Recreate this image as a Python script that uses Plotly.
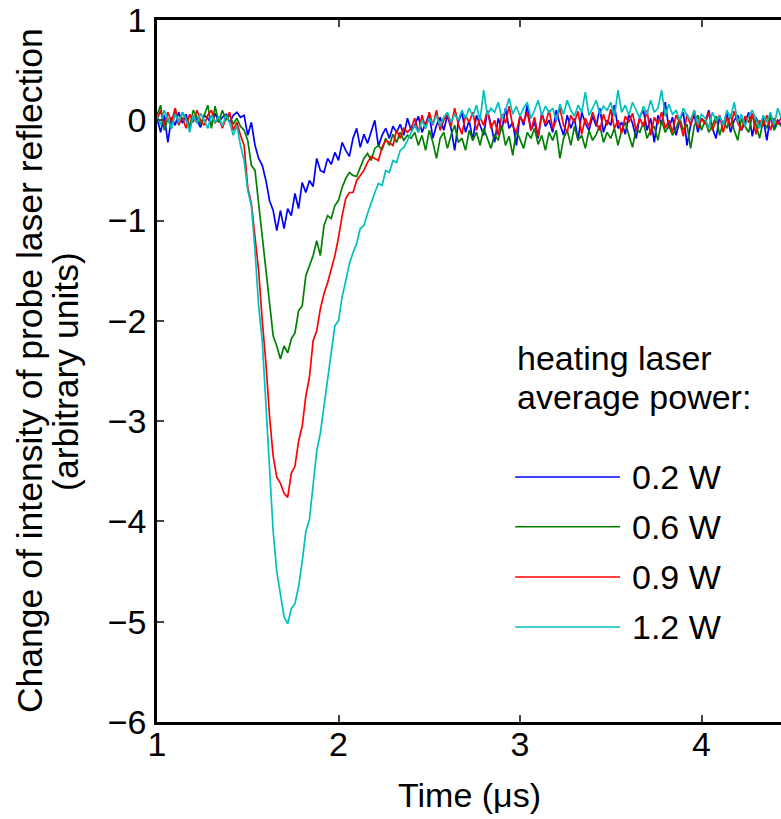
import numpy as np
import plotly.graph_objects as go

# ---- data: change of probe reflection (arbitrary units), sampled every 0.02 us from t = 1.00 us
T0 = 1.0
DT = 0.02

blue_pre = [0.02, -0.12, 0.05, -0.22, 0.03, -0.05, 0.08, -0.03, 0.06, -0.08, 0.04, 0.0,
            -0.07, 0.05, 0.02, -0.04, 0.07, -0.02, 0.03, 0.06, -0.02, 0.05, 0.08, 0.03]
blue_dip = [0.05, -0.15, -0.02, -0.25, -0.38, -0.45, -0.6, -0.8, -0.9, -1.1, -0.9, -1.08,
            -0.88, -0.95, -0.73, -0.88, -0.62, -0.72, -0.6, -0.66, -0.38, -0.5, -0.52, -0.38,
            -0.44, -0.32, -0.4, -0.22, -0.3, -0.36, -0.18, -0.08, -0.27, -0.14, -0.23, -0.12,
            0.0, -0.26, -0.15, -0.08, -0.18, -0.06, -0.12, -0.04, -0.15, 0.02, -0.1]
blue_tail = [-0.05, 0.04, -0.12, -0.02, 0.06, -0.18, -0.05, 0.03, -0.1, 0.05,
             -0.08, -0.3, -0.02, 0.08, -0.12, 0.0, -0.2, 0.05, -0.06, -0.15,
             0.1, -0.04, -0.22, 0.02, -0.1, 0.12, -0.08, -0.02, -0.25, 0.05,
             -0.05, 0.15, -0.1, -0.02, -0.18, 0.08, -0.06, 0.0, -0.12, 0.1,
             -0.04, -0.15, 0.05, -0.08, 0.02, -0.2, 0.08, -0.03, -0.1, 0.04,
             -0.06, 0.12, -0.12, 0.0, -0.05, 0.15, -0.08, -0.02, -0.14, 0.06,
             -0.03, -0.18, 0.04, 0.1, -0.1, 0.02, -0.22, 0.05, -0.04, 0.18,
             -0.08, 0.03, -0.15, 0.0, 0.08, -0.25, -0.05, 0.06, -0.12, 0.02,
             -0.02, 0.1, -0.08, -0.18, 0.04, -0.04, 0.07, -0.12, 0.0, 0.05,
             -0.1, -0.02, 0.08, -0.16, 0.03, -0.06, 0.02, -0.2, 0.05, -0.08,
             0.0, -0.05]

green_pre = [0.05, 0.15, -0.1, 0.02, -0.08, 0.12, -0.05, 0.08, 0.0, -0.06, 0.1, 0.03,
             -0.04, 0.05, 0.15, -0.08, 0.14, -0.02, 0.1, 0.0, 0.06, -0.04, 0.02, -0.06]
green_dip = [-0.1, -0.2, -0.45, -0.5, -0.82, -1.2, -1.46, -1.8, -2.15, -2.25, -2.38, -2.25,
             -2.32, -2.18, -2.12, -1.9, -1.85, -1.55, -1.45, -1.35, -1.2, -1.35, -1.05, -0.95,
             -0.98, -0.85, -0.8, -0.67, -0.58, -0.52, -0.55, -0.56, -0.47, -0.38, -0.33, -0.4,
             -0.28, -0.25, -0.3, -0.18, -0.25, -0.14, -0.22, -0.12, -0.2, -0.15, -0.18]
green_tail = [-0.12, -0.25, -0.15, -0.3, -0.1, -0.22, -0.38, -0.18, -0.12, -0.28,
              -0.15, -0.05, -0.22, -0.18, -0.3, -0.1, -0.2, -0.12, -0.25, -0.08,
              -0.18, -0.28, -0.14, -0.2, -0.05, -0.25, -0.16, -0.35, -0.1, -0.2,
              -0.28, -0.12, -0.18, -0.08, -0.24, -0.15, -0.3, -0.12, -0.2, -0.1,
              -0.38, -0.18, -0.1, -0.25, -0.06, -0.2, -0.15, -0.28, -0.1, -0.2,
              -0.14, -0.05, -0.22, -0.12, -0.18, -0.08, -0.25, -0.1, -0.02, -0.15,
              -0.27, -0.08, -0.12, -0.02, -0.18, -0.1, -0.06, -0.2, 0.0, -0.12,
              -0.05, -0.15, -0.08, 0.02, -0.1, -0.04, -0.28, -0.06, 0.05, -0.1,
              0.0, -0.12, -0.05, 0.04, -0.15, -0.02, -0.08, 0.06, -0.1, -0.2,
              0.02, -0.06, -0.12, 0.05, -0.04, -0.18, 0.0, -0.08, 0.04, -0.1,
              -0.02, -0.06]

red_pre = [0.0, 0.1, -0.05, 0.08, -0.02, 0.12, -0.04, 0.03, -0.08, 0.06, -0.02, 0.1,
           0.0, -0.05, 0.05, 0.1, -0.03, 0.04, -0.08, 0.02, 0.08, -0.1, -0.02, -0.15]
red_dip = [-0.25, -0.67, -0.83, -1.15, -1.5, -2.0, -2.42, -2.95, -3.35, -3.56, -3.62, -3.72,
           -3.76, -3.52, -3.45, -3.2, -3.05, -2.75, -2.56, -2.2, -2.1, -1.88, -1.73, -1.62,
           -1.48, -1.35, -1.17, -0.95, -0.78, -0.72, -0.72, -0.6, -0.55, -0.5, -0.42, -0.36,
           -0.38, -0.4, -0.27, -0.2, -0.22, -0.25, -0.1, -0.18, -0.08, -0.12, -0.08]
red_tail = [0.02, -0.12, 0.05, -0.08, 0.08, -0.05, 0.1, -0.1, 0.0, 0.06,
            -0.06, 0.12, -0.04, -0.14, 0.05, -0.02, 0.08, -0.1, 0.03, -0.05,
            0.1, -0.08, 0.0, -0.15, 0.06, -0.03, 0.14, -0.06, -0.12, 0.04,
            -0.02, 0.08, -0.1, 0.03, -0.16, 0.06, -0.04, 0.1, -0.08, 0.0,
            0.12, -0.05, -0.12, 0.05, -0.02, 0.09, -0.14, 0.02, -0.06, 0.08,
            -0.03, -0.1, 0.06, -0.05, 0.11, -0.08, 0.0, -0.13, 0.04, -0.02,
            0.07, -0.1, 0.02, -0.06, 0.1, -0.15, 0.03, -0.04, 0.08, -0.08,
            0.0, -0.12, 0.05, -0.02, -0.16, 0.06, -0.05, 0.1, -0.08, 0.02,
            -0.04, 0.08, -0.1, 0.0, 0.05, -0.12, 0.03, -0.06, 0.09, -0.03,
            -0.1, 0.04, -0.02, 0.07, -0.14, 0.0, -0.06, 0.05, -0.1, 0.02,
            -0.04, 0.03]

cyan_pre = [0.05, -0.05, 0.1, 0.0, -0.08, 0.06, -0.02, 0.08, 0.02, -0.12, 0.05, -0.03,
            0.07, 0.0, -0.08, 0.05, -0.02, 0.04, -0.06, 0.05, -0.02, -0.15, -0.05, -0.25]
cyan_dip = [-0.4, -0.7, -0.85, -1.3, -1.85, -2.2, -2.85, -3.45, -4.1, -4.5, -4.75, -4.95,
            -5.02, -4.87, -4.82, -4.65, -4.4, -4.1, -3.98, -3.66, -3.3, -3.12, -2.85, -2.58,
            -2.3, -2.05, -2.0, -1.76, -1.6, -1.43, -1.32, -1.23, -1.08, -1.05, -0.93, -0.82,
            -0.72, -0.63, -0.65, -0.5, -0.52, -0.4, -0.42, -0.3, -0.27, -0.2, -0.13]
cyan_tail = [-0.05, -0.12, 0.0, -0.08, 0.02,
             -0.04, 0.05, -0.06, 0.03, 0.08, -0.02, 0.06, 0.0, 0.1, 0.02,
             0.12, 0.04, 0.15, 0.0, 0.3, 0.05, 0.12, 0.08, 0.18, 0.02,
             0.1, 0.22, 0.06, 0.14, 0.04, 0.12, 0.18, 0.02, 0.1, 0.2,
             0.05, 0.14, 0.08, 0.12, 0.0, 0.16, 0.06, 0.2, 0.1, 0.04,
             0.15, 0.08, 0.28, 0.05, 0.12, 0.2, 0.06, 0.14, 0.1, 0.18,
             0.04, 0.3, 0.08, 0.15, 0.05, 0.18, 0.1, 0.02, 0.14, 0.06,
             0.2, 0.08, 0.12, 0.3, 0.04, 0.16, 0.06, 0.1, 0.0, 0.12,
             0.05, 0.0, 0.1, -0.04, 0.06, 0.02, -0.08, 0.08, 0.0, 0.04,
             -0.05, 0.1, 0.02, 0.18, -0.02, 0.06, -0.06, 0.04, 0.1, 0.0,
             -0.08, 0.05, -0.02, 0.08, -0.05, 0.12, 0.02]

series_values = [blue_pre + blue_dip + blue_tail,
                 green_pre + green_dip + green_tail,
                 red_pre + red_dip + red_tail,
                 cyan_pre + cyan_dip + cyan_tail]
power_labels = ["0.2 W", "0.6 W", "0.9 W", "1.2 W"]
colors = ["#0000FF", "#008000", "#FF0000", "#00BFBF"]

x_ticks = [1, 2, 3, 4]
y_ticks = [-6, -5, -4, -3, -2, -1, 0, 1]

FONT = "Liberation Sans, Arial, Helvetica, sans-serif"
FS = 34

fig = go.Figure()
for vals, name, col in zip(series_values, power_labels, colors):
    t = np.round(T0 + DT * np.arange(len(vals)), 2)
    fig.add_trace(go.Scatter(x=t, y=vals, mode="lines", name=name,
                             line=dict(color=col, width=1.7), showlegend=False))

# hand-made legend (long line samples like the original)
leg_y = [0.349, 0.278, 0.2066, 0.1353]
for yy, name, col in zip(leg_y, power_labels, colors):
    fig.add_shape(type="line", xref="paper", yref="paper", x0=0.574, x1=0.742, y0=yy, y1=yy,
                  line=dict(color=col, width=1.5))
    fig.add_annotation(text=name, xref="paper", yref="paper", x=0.758, y=yy,
                       xanchor="left", yanchor="middle", showarrow=False,
                       font=dict(family=FONT, size=FS, color="black"))
for txt, yy in [("heating laser", 0.5185), ("average power:", 0.463)]:
    fig.add_annotation(text=txt, xref="paper", yref="paper", x=0.574, y=yy,
                       xanchor="left", yanchor="middle", showarrow=False,
                       font=dict(family=FONT, size=FS, color="black"))

# axis titles
fig.add_annotation(text="Change of intensity of probe laser reflection", xref="paper", yref="paper",
                   x=-0.2035, y=0.5, textangle=-90, xanchor="center", yanchor="middle",
                   showarrow=False, font=dict(family=FONT, size=35.5, color="black"))
fig.add_annotation(text="(arbitrary units)", xref="paper", yref="paper",
                   x=-0.146, y=0.5, textangle=-90, xanchor="center", yanchor="middle",
                   showarrow=False, font=dict(family=FONT, size=35.5, color="black"))
fig.add_annotation(text="Time (μs)", xref="paper", yref="paper",
                   x=0.5, y=-0.104, xanchor="center", yanchor="middle",
                   showarrow=False, font=dict(family=FONT, size=FS, color="black"))

fig.update_layout(
    width=781, height=819,
    margin=dict(l=157, r=0, t=20, b=97, autoexpand=False),
    paper_bgcolor="white", plot_bgcolor="white",
    font=dict(family=FONT, size=FS, color="black"),
    xaxis=dict(range=[1, 4.438], tickvals=x_ticks, ticks="inside", ticklen=7, tickwidth=2,
               showline=True, linewidth=2.5, linecolor="black", mirror="ticks",
               showgrid=False, zeroline=False, tickfont=dict(size=FS), ticklabelstandoff=-10,
               ticklabeloverflow="allow", automargin=False),
    yaxis=dict(range=[-6, 1], tickvals=y_ticks, ticks="inside", ticklen=7, tickwidth=2,
               showline=True, linewidth=2.5, linecolor="black", mirror=False,
               showgrid=False, zeroline=False, tickfont=dict(size=FS), ticklabelstandoff=1,
               ticklabeloverflow="allow", automargin=False),
)

# remove the default 8 px page margin so the figure fills the window exactly
fig.write_html("out.html", config={"displayModeBar": False},
               post_script="document.body.style.margin='0';")
